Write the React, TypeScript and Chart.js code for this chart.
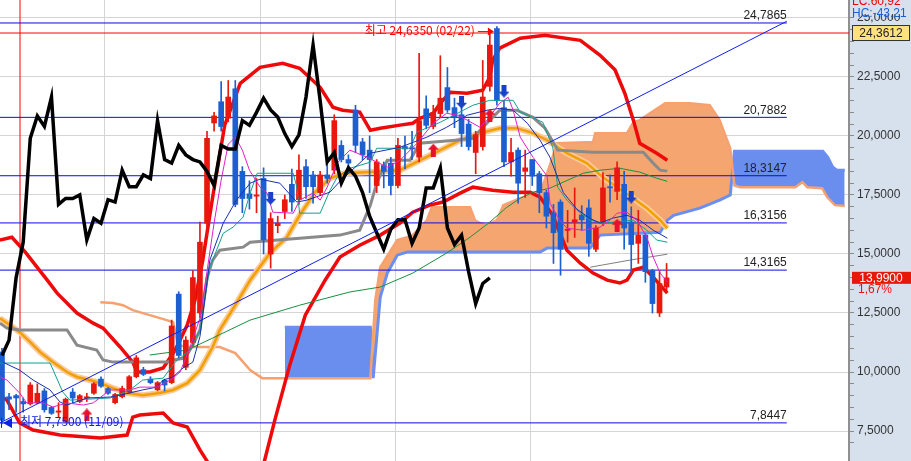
import React, { useEffect, useRef } from 'react';
import { Chart, registerables } from 'chart.js';
Chart.register(...registerables);

// ---- candle data (index 0..94) ----
const opens = [10.85,8.95,9.0,8.75,8.65,8.7,9.2,8.5,8.3,7.9,9.15,8.75,8.9,9.1,9.7,9.3,8.7,8.95,9.15,9.8,10.1,9.7,9.25,9.65,9.55,13.3,10.2,11.25,12.5,16.3,20.55,21.45,20.75,22.0,18.5,17.55,17.45,18.2,15.0,16.2,16.8,17.95,17.3,18.7,18.35,17.6,18.35,18.55,19.6,19.0,21.1,19.75,19.4,17.9,18.75,18.85,17.9,19.55,19.5,19.1,21.15,20.4,20.95,22.05,21.2,20.9,20.5,19.3,19.55,22.1,24.55,21.2,18.9,19.4,18.5,19.0,18.4,17.6,16.75,17.2,16.0,16.35,16.65,16.95,15.2,16.35,17.85,17.65,17.95,16.35,15.45,15.8,14.3,12.5,13.6];
const highs = [11.0,9.1,9.05,8.9,9.55,9.5,9.3,8.55,8.7,8.9,9.3,9.05,9.1,9.55,9.8,9.35,9.1,9.4,9.85,10.7,10.2,9.8,9.6,9.7,12.2,13.4,11.5,14.3,16.35,20.2,21.0,22.3,22.35,22.35,18.7,18.1,18.2,18.65,16.75,16.6,17.5,18.6,19.2,19.0,18.5,18.5,18.9,20.9,19.8,19.2,21.3,19.9,20.0,19.0,18.9,19.1,19.9,20.0,20.2,23.5,21.7,21.3,23.4,22.9,21.6,21.2,20.7,20.2,23.2,24.35,24.635,21.5,19.9,19.5,19.4,19.0,18.5,17.7,17.1,17.3,16.85,17.8,17.05,17.3,16.2,18.45,18.35,18.9,18.5,17.0,16.85,15.85,14.35,14.3,14.6];
const lows = [7.8,8.4,8.3,8.3,8.6,8.65,8.3,8.2,8.1,7.85,8.7,8.7,8.75,9.05,9.35,9.05,8.65,8.9,9.1,9.75,9.85,9.5,9.2,9.2,9.5,10.6,10.1,11.1,12.3,15.8,20.2,20.2,20.6,17.0,16.75,16.9,16.75,15.0,14.4,15.9,16.5,16.8,17.1,17.35,17.15,17.5,18.0,18.4,18.9,18.4,19.3,19.0,17.6,17.6,17.8,17.5,17.8,18.6,19.0,18.9,20.3,20.3,20.8,21.0,20.35,19.55,19.4,18.4,19.4,21.9,21.3,18.7,18.3,17.15,17.4,17.9,16.75,16.1,14.6,14.1,15.5,15.7,16.0,14.9,15.1,16.2,17.2,17.3,15.2,14.15,14.6,13.8,12.5,12.35,13.4];
const closes = [7.95,8.85,8.9,8.65,9.45,9.1,8.4,8.25,8.35,8.85,8.9,9.0,8.95,9.5,9.4,9.1,9.05,9.3,9.8,10.6,9.9,9.55,9.55,9.45,11.95,10.7,11.35,14.0,15.5,19.9,20.85,20.4,21.65,17.1,17.35,17.35,17.5,15.6,16.5,16.3,17.3,17.2,18.55,17.85,17.85,18.35,18.2,20.65,19.0,18.85,19.6,19.2,19.0,18.9,18.5,17.9,19.6,19.45,19.45,20.65,20.45,21.0,21.6,21.1,20.8,20.1,19.55,20.05,21.65,23.85,21.5,18.9,19.3,18.0,18.65,18.3,17.6,16.6,15.9,15.2,16.05,16.45,16.45,15.45,16.1,17.8,17.8,18.65,16.1,15.4,15.8,14.25,12.9,13.75,13.99];
const LAG = 25;

// ---- indicator lines: [index, value] ----
const bbUpper = [[-0.3,15.59],[1.4,15.71],[3.3,15.08],[6.4,13.89],[7.8,13.34],[10.6,12.5],[12.9,12.07],[14.3,11.86],[16.7,11.06],[18.5,10.42],[19.1,10.0],[20.9,10.0],[22.8,10.17],[24.5,10.93],[26.2,11.99],[27.3,13.05],[28.4,14.74],[29.8,17.41],[31.5,20.46],[33.7,22.23],[36.5,22.91],[39.7,23.08],[42.1,22.87],[45.0,22.06],[46.8,21.22],[48.2,21.09],[50.6,21.01],[52.1,20.24],[53.5,20.33],[56.3,20.46],[58.1,20.54],[59.1,20.75],[61.0,20.96],[62.0,21.39],[63.4,21.85],[65.8,21.81],[68.0,21.94],[69.0,22.49],[69.4,23.21],[70.4,23.72],[73.3,24.14],[76.8,24.27],[81.8,24.05],[84.6,23.42],[86.7,22.8],[88.1,21.8],[89.3,20.67],[90.2,19.69],[92.6,19.27],[94.1,18.97]];
const bbLower = [[-0.3,9.02],[0.7,8.81],[2.5,7.84],[4.4,7.54],[8.2,7.33],[13.9,7.2],[17.7,7.33],[18.5,8.09],[19.5,8.18],[22.8,8.26],[24.2,7.84],[26.2,7.67],[28.0,6.7],[29.8,5.85],[33.7,4.6],[36.8,5.85],[38.6,7.97],[40.7,10.29],[42.9,12.41],[45.7,13.89],[47.8,14.87],[50.6,15.37],[53.5,15.8],[56.3,16.31],[58.1,16.77],[60.5,17.07],[62.4,17.2],[64.8,17.58],[66.6,17.83],[69.4,17.7],[72.3,17.62],[74.7,17.62],[76.1,17.41],[77.9,16.64],[79.9,15.16],[81.8,14.61],[83.6,14.19],[85.6,13.89],[87.4,13.77],[88.4,13.89],[89.3,14.32],[90.7,14.44],[92.1,14.02],[94.1,13.34]];
const kijun = [[-0.3,12.07],[0.7,11.86],[2.5,11.78],[9.2,11.78],[10.6,11.14],[13.4,10.93],[14.3,10.51],[15.7,10.42],[23.3,10.42],[24.2,10.51],[25.9,10.59],[27.0,11.14],[28.0,11.78],[29.0,13.98],[29.8,14.74],[30.8,15.16],[34.1,15.29],[35.1,15.5],[42.1,15.67],[47.8,15.8],[50.6,16.01],[52.1,17.07],[53.0,18.0],[54.5,18.97],[57.7,18.97],[59.1,19.69],[64.1,19.82],[66.6,19.9],[68.3,20.46],[70.4,21.09],[72.8,21.09],[75.1,20.79],[76.8,20.33],[78.6,19.4],[83.6,19.31],[90.7,19.31],[92.1,18.85],[93.1,18.55],[94.1,18.51]];
const goldMa = [[-0.3,12.28],[1.1,11.99],[2.5,11.69],[4.0,11.27],[5.4,10.84],[7.2,10.42],[9.2,10.0],[10.6,9.79],[12.4,9.66],[13.9,9.53],[15.7,9.32],[17.7,9.11],[19.9,9.02],[22.3,9.11],[24.2,9.24],[26.2,9.53],[28.0,10.08],[29.8,11.06],[30.8,11.78],[33.0,12.83],[35.1,13.89],[37.9,15.04],[40.3,15.71],[42.1,16.64],[44.3,17.62],[46.4,18.21],[48.5,18.42],[52.1,18.47],[56.3,18.55],[59.1,18.97],[62.0,19.4],[64.8,19.82],[67.6,20.12],[70.4,20.33],[72.8,20.33],[75.1,20.12],[77.1,19.82],[79.9,19.27],[82.7,18.85],[85.0,18.25],[87.0,17.83],[89.3,17.36],[91.2,16.94],[93.1,16.43],[94.1,16.09]];
const spanA = [[13.9,12.96],[15.7,12.92],[17.1,12.83],[18.5,12.62],[20.9,12.41],[23.3,12.2],[24.2,12.11],[24.9,11.14],[26.2,11.06],[30.8,11.06],[33.0,10.8],[35.1,10.08],[36.8,9.74],[40.0,9.74],[52.1,9.74],[52.8,13.05],[53.5,14.44],[55.9,15.59],[57.3,15.71],[58.1,15.8],[60.1,16.43],[60.8,16.98],[66.2,16.98],[66.9,16.43],[67.6,16.31],[68.6,16.22],[70.0,16.43],[70.9,17.07],[73.3,17.36],[75.7,17.62],[76.5,17.91],[77.5,18.76],[78.5,19.69],[83.6,19.74],[83.9,20.12],[88.4,20.12],[89.3,20.58],[90.2,20.67],[93.8,21.39],[97.3,21.39],[100.1,21.3],[101.5,20.67],[103.0,19.48],[103.6,17.9],[104.4,17.83],[112.2,17.83],[113.2,18.04],[113.9,17.83],[116.0,17.79],[116.7,17.41],[117.8,17.07],[119.2,17.03]];
const spanB = [[40.0,11.9],[52.1,11.9],[52.5,9.74],[53.5,13.17],[54.5,14.19],[55.9,14.95],[57.3,15.08],[76.1,15.08],[77.1,15.25],[83.2,15.25],[84.6,15.8],[93.1,15.92],[94.1,16.43],[95.0,16.64],[98.7,16.94],[101.5,17.28],[103.0,17.5],[103.6,19.35],[116.1,19.35],[116.8,19.1],[117.5,18.68],[118.1,18.55],[119.2,18.55]];
const tenkan = [[-0.3,10.38],[6.8,10.38],[8.6,9.15],[9.6,8.81],[15.3,8.9],[18.1,9.24],[19.9,9.66],[22.8,9.74],[24.5,10.42],[26.6,10.93],[28.0,11.78],[29.4,14.44],[31.3,15.88],[32.7,16.14],[34.1,16.56],[35.1,17.58],[36.1,18.42],[41.2,18.42],[41.7,17.83],[42.1,16.73],[45.0,16.73],[46.4,17.7],[47.4,18.25],[49.2,18.63],[52.1,18.89],[53.0,19.48],[57.7,19.48],[58.7,20.16],[62.0,20.58],[66.6,21.3],[69.0,21.51],[72.3,21.51],[73.3,21.01],[76.5,20.58],[77.9,19.52],[78.6,17.83],[79.9,17.28],[81.3,16.86],[83.2,16.43],[85.0,16.31],[89.3,16.43],[91.2,16.01],[92.6,15.59],[94.1,15.5]];
const ma5 = [[-0.3,9.79],[0.7,9.66],[2.5,9.11],[3.5,8.69],[5.8,8.69],[7.2,8.52],[9.2,8.69],[11.5,8.6],[12.9,8.69],[15.3,9.24],[18.1,9.24],[19.5,9.36],[21.9,9.36],[23.8,9.66],[25.2,10.0],[26.6,11.06],[28.0,12.28],[29.0,14.27],[30.0,16.31],[31.0,18.13],[32.0,19.65],[33.0,19.95],[34.0,19.4],[35.0,18.55],[36.5,17.83],[37.5,17.58],[38.3,16.77],[41.2,16.73],[42.1,17.28],[44.0,17.58],[45.0,17.28],[46.0,17.83],[47.4,18.85],[49.2,19.4],[51.6,19.1],[54.5,18.68],[56.3,18.97],[58.7,19.69],[61.0,20.54],[62.9,20.96],[64.4,20.88],[65.8,20.67],[67.6,20.37],[68.6,20.67],[70.4,21.39],[71.6,21.64],[72.3,21.09],[73.3,19.95],[75.1,19.1],[77.1,18.3],[77.5,17.15],[78.9,16.43],[79.9,16.09],[82.2,16.01],[84.6,16.14],[86.0,16.43],[87.0,16.73],[88.4,16.77],[89.8,16.43],[91.2,15.71],[92.1,14.87],[93.1,14.19],[94.1,13.81]];
const ma20 = [[0.1,10.42],[2.5,10.08],[4.4,9.66],[6.8,9.24],[8.2,8.73],[9.2,8.6],[12.0,8.9],[15.3,8.94],[16.7,9.02],[19.9,9.24],[21.9,9.36],[22.8,9.66],[24.2,9.79],[25.6,10.17],[27.0,10.42],[28.0,11.5],[29.4,14.74],[31.3,16.31],[33.2,17.3],[35.1,18.0],[36.5,18.17],[39.3,18.0],[41.7,17.2],[43.1,17.28],[46.4,17.62],[47.8,18.08],[52.1,19.27],[56.3,19.52],[60.1,19.95],[62.9,20.37],[65.8,20.88],[68.6,21.09],[70.4,21.17],[72.3,21.09],[74.3,20.54],[76.1,19.82],[77.5,19.1],[79.4,17.6],[81.3,16.9],[83.2,16.5],[84.6,16.31],[86.4,16.52],[88.4,16.64],[90.2,16.43],[92.1,16.01],[94.1,15.67]];
const ma60 = [[20.9,10.72],[26.2,10.93],[29.8,11.44],[35.1,12.2],[42.1,12.83],[49.2,13.39],[53.5,13.6],[58.1,14.19],[62.9,15.04],[66.2,15.71],[69.0,16.35],[71.4,16.98],[73.3,17.36],[75.1,17.62],[77.5,17.79],[82.2,18.42],[84.6,18.55],[87.4,18.63],[90.2,18.47],[92.6,18.21],[94.1,18.08]];
const ma120 = [[83.2,14.44],[88.8,14.74],[94.1,14.99]];
const trendLine = [[-0.3,7.84],[111.0,24.86]];

const levels = [24.7865, 20.7882, 18.3147, 16.3156, 14.3165, 7.8447];
const levelLabels = ['24,7865', '20,7882', '18,3147', '16,3156', '14,3165', '7,8447'];
const levelEnd = 111;
const resistance = 24.3612;
const lastPrice = 13.99;
const lastChange = '1,67%';
const lowMarkerIdx = 2.55;
const monthLines = [14.57, 36.5, 55.6, 74.7];
const upSignals = [[12, 8.18], [61, 19.4], [69, 20.88], [87, 16.22]];
const downSignals = [[38, 17.36], [65, 21.43], [71, 21.9], [89, 17.41]];
const highIdx = 70;
const highValue = 24.635;
const highText = '최고 24,6350 (02/22)';
const lowText = '최저 7,7500 (11/09)';
const lowValue = 7.8447;

const X_MIN = -0.28, X_MAX = 119.8, Y_MIN = 6.23, Y_MAX = 25.76;
const UP = '#e8180e', DOWN = '#1c5fd0';
const ORANGE = 'rgb(245,166,112)', BLUEFILL = 'rgb(106,142,238)';

const pts = (a: number[][]) => a.map(([x, y]) => ({ x, y }));

function makeArrow(color: string, up: boolean) {
  const c = document.createElement('canvas');
  c.width = 11; c.height = 13;
  const g = c.getContext('2d')!;
  g.fillStyle = color;
  g.beginPath();
  if (up) {
    g.moveTo(5.5, 0); g.lineTo(11, 6); g.lineTo(8, 6); g.lineTo(8, 13); g.lineTo(3, 13); g.lineTo(3, 6); g.lineTo(0, 6);
  } else {
    g.moveTo(5.5, 13); g.lineTo(11, 7); g.lineTo(8, 7); g.lineTo(8, 0); g.lineTo(3, 0); g.lineTo(3, 7); g.lineTo(0, 7);
  }
  g.closePath(); g.fill();
  return c;
}

const fmt = (v: number) => v.toFixed(4).replace('.', ',');
const noPad = (s: any) => { s.paddingTop = 0; s.paddingBottom = 0; s.paddingLeft = 0; s.paddingRight = 0; };

const overlay = {
  id: 'overlay',
  beforeDraw(chart: any) {
    const { ctx, chartArea, width, height } = chart;
    ctx.save();
    ctx.fillStyle = '#ffffff';
    ctx.fillRect(0, 0, width, height);
    ctx.fillStyle = '#d7e1ee';
    ctx.fillRect(chartArea.right, 0, width - chartArea.right, height);
    ctx.restore();
  },
  afterDraw(chart: any) {
    const { ctx, chartArea } = chart;
    const xs = chart.scales.x, ys = chart.scales.y;
    ctx.save();
    ctx.font = '12px "Liberation Sans"';
    ctx.fillStyle = '#222';
    ctx.textAlign = 'right';
    ctx.textBaseline = 'bottom';
    levels.forEach((lv, k) => {
      ctx.fillText(levelLabels[k], xs.getPixelForValue(levelEnd), ys.getPixelForValue(lv) - 1);
    });
    const hx = xs.getPixelForValue(highIdx);
    const hy = ys.getPixelForValue(highValue) + 4;
    ctx.fillStyle = '#ff0000';
    ctx.strokeStyle = '#ff0000';
    ctx.font = '12px "Noto Sans CJK KR"';
    ctx.textBaseline = 'middle';
    ctx.fillText(highText, hx - 22, hy);
    ctx.beginPath(); ctx.moveTo(hx - 19, hy + 1); ctx.lineTo(hx - 6, hy + 1); ctx.lineWidth = 1; ctx.stroke();
    ctx.beginPath(); ctx.moveTo(hx - 3, hy + 1); ctx.lineTo(hx - 9, hy - 3); ctx.lineTo(hx - 9, hy + 5); ctx.closePath(); ctx.fill();
    const ly = ys.getPixelForValue(lowValue);
    ctx.fillStyle = '#1020e0';
    ctx.strokeStyle = '#1020e0';
    ctx.textAlign = 'left';
    ctx.fillText(lowText, 20, ly - 1);
    ctx.beginPath(); ctx.moveTo(3, ly); ctx.lineTo(12, ly - 5); ctx.lineTo(12, ly + 5); ctx.closePath(); ctx.fill();
    ctx.fillRect(1, ly - 5, 1, 10);
    const px = chartArea.right;
    ctx.fillStyle = '#d7e1ee';
    ctx.fillRect(px + 1, 0, 62, 14);
    ctx.font = '12px "Liberation Sans"';
    ctx.textAlign = 'left';
    ctx.textBaseline = 'alphabetic';
    ctx.fillStyle = '#ee0000';
    ctx.fillText('LC:60,92', px + 3, 5);
    ctx.fillStyle = '#1a5fd8';
    ctx.fillText('HC:-43,21', px + 3, 17);
    const ry = ys.getPixelForValue(resistance);
    ctx.fillStyle = '#ffe27c';
    ctx.fillRect(px + 3, ry - 8, 58, 16);
    ctx.strokeStyle = '#333';
    ctx.lineWidth = 1;
    ctx.strokeRect(px + 3.5, ry - 7.5, 57, 15);
    ctx.fillStyle = '#222';
    ctx.textAlign = 'center';
    ctx.textBaseline = 'middle';
    ctx.fillText(fmt(resistance), px + 32, ry + 0.5);
    const cy = ys.getPixelForValue(lastPrice);
    ctx.fillStyle = '#e81808';
    ctx.fillRect(px + 3, cy - 6, 62, 12);
    ctx.fillStyle = '#ffffff';
    ctx.fillText(fmt(lastPrice), px + 32, cy + 0.5);
    ctx.fillStyle = '#ee1010';
    ctx.textAlign = 'left';
    ctx.fillText(lastChange, px + 9, cy + 12);
    ctx.restore();
  },
};

export default function App() {
  const ref = useRef<HTMLCanvasElement>(null);
  useEffect(() => {
    document.body.style.margin = '0';
    const line = (data: number[][], color: string, width: number, order: number, extra: any = {}) => ({
      type: 'line', data: pts(data), borderColor: color, borderWidth: width, pointRadius: 0,
      tension: 0, fill: false, order, ...extra,
    });
    const datasets: any[] = [];
    datasets.push(line(spanB, '#6b8ff0', 3, 95));
    const spanBIndex = 0;
    datasets.push(line(spanA.filter(p => p[0] >= 40), 'rgba(0,0,0,0)', 0, 100, {
      fill: { target: spanBIndex, above: ORANGE, below: BLUEFILL },
    }));
    datasets.push(line(spanA, '#f7a070', 2.5, 94));
    levels.forEach(lv => datasets.push(line([[X_MIN, lv], [levelEnd, lv]], '#0a0ae8', 1, 80)));
    datasets.push(line([[X_MIN, resistance], [X_MAX, resistance]], '#ff0000', 1, 80));
    datasets.push(line([[lowMarkerIdx, 0], [lowMarkerIdx, 30]], '#ff0000', 1, 80));
    datasets.push(line(bbUpper, '#ee0a0a', 3.5, 70));
    datasets.push(line(bbLower, '#ee0a0a', 3.5, 70));
    datasets.push(line(goldMa, '#fdc99a', 6, 66));
    datasets.push(line(goldMa, '#f0a000', 2.5, 65));
    datasets.push(line(kijun, '#8a8a8a', 3, 60));
    datasets.push(line(ma120, '#808080', 1, 58));
    datasets.push(line(ma60, '#189040', 1, 57));
    const colors = closes.map((c, i) => (c >= opens[i] ? UP : DOWN));
    datasets.push({
      type: 'bar', order: 50, grouped: false, barThickness: 1, backgroundColor: colors,
      data: closes.map((_, i) => ({ x: i, y: [lows[i], highs[i]] })),
    });
    datasets.push({
      type: 'bar', order: 49, grouped: false, barThickness: 5, minBarLength: 1, backgroundColor: colors,
      data: closes.map((c, i) => ({ x: i, y: [Math.min(opens[i], c), Math.max(opens[i], c)] })),
    });
    datasets.push(line(tenkan, '#10a090', 1, 40));
    datasets.push(line(ma20, '#1830b0', 1, 39));
    datasets.push(line(ma5, '#e020c8', 1, 38));
    datasets.push(line(closes.slice(LAG).map((c, j) => [j, c]), '#000000', 3.5, 30));
    datasets.push(line(trendLine, '#1020ee', 1, 25));
    datasets.push({ type: 'scatter', order: 10, data: pts(upSignals), pointStyle: makeArrow('#e8102a', true), pointRadius: 6 });
    datasets.push({ type: 'scatter', order: 10, data: pts(downSignals), pointStyle: makeArrow('#1840c8', false), pointRadius: 6 });

    const chart = new Chart(ref.current!, {
      type: 'bar',
      data: { datasets },
      options: {
        responsive: false,
        devicePixelRatio: 1,
        animation: false,
        events: [],
        layout: { padding: 0, autoPadding: false },
        plugins: { legend: { display: false }, tooltip: { enabled: false } },
        scales: {
          x: {
            type: 'linear', min: X_MIN, max: X_MAX, offset: false,
            afterBuildTicks: (s: any) => { s.ticks = monthLines.map(v => ({ value: v })); },
            afterFit: (s: any) => { s.height = 0; noPad(s); },
            ticks: { display: false },
            border: { display: false },
            grid: { color: '#d4d4d4', drawTicks: false, offset: false },
          },
          y: {
            position: 'right', min: Y_MIN, max: Y_MAX,
            afterFit: (s: any) => { s.width = 62; noPad(s); },
            ticks: {
              stepSize: 0.5, autoSkip: false, padding: 3, color: '#333',
              font: { family: 'Liberation Sans', size: 12 },
              callback: (v: any) => (Math.abs(v / 2.5 - Math.round(v / 2.5)) < 1e-6 ? fmt(Number(v)) : ''),
            },
            border: { color: '#909090', width: 2 },
            grid: {
              tickLength: 5,
              tickColor: '#8a8a8a',
              color: (c: any) => (c.tick && Math.abs(c.tick.value / 2.5 - Math.round(c.tick.value / 2.5)) < 1e-6 ? '#d4d4d4' : 'rgba(0,0,0,0)'),
            },
          },
        },
      } as any,
      plugins: [overlay],
    } as any);
    return () => chart.destroy();
  }, []);
  return (
    <div style={{ width: 911, height: 461 }}>
      <canvas ref={ref} width={911} height={461} style={{ display: 'block' }} />
    </div>
  );
}
